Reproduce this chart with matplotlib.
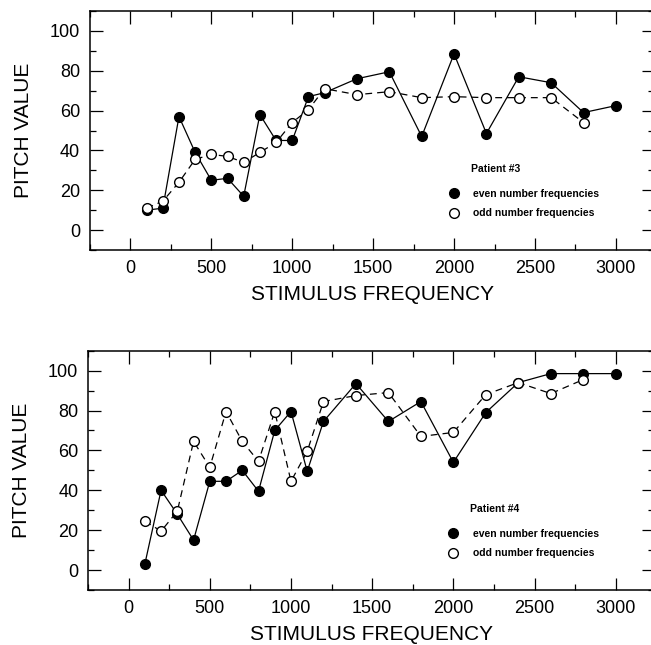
import numpy as np
import matplotlib
matplotlib.use("Agg")
import matplotlib.pyplot as plt
from matplotlib.lines import Line2D
from matplotlib.ticker import MultipleLocator

plt.rcParams['font.family'] = ['Liberation Sans', 'DejaVu Sans']

# Frequencies (Hz) of the stimuli
freq_even = [100, 200, 300, 400, 500, 600, 700, 800, 900, 1000, 1100, 1200,
             1400, 1600, 1800, 2000, 2200, 2400, 2600, 2800, 3000]
freq_odd = [100, 200, 300, 400, 500, 600, 700, 800, 900, 1000, 1100, 1200,
            1400, 1600, 1800, 2000, 2200, 2400, 2600, 2800]

# Patient #3
p3_even = [10, 11, 57, 39, 25, 26, 17, 58, 45, 45, 67, 69,
           76, 79.5, 47, 88.5, 48.5, 77, 74, 59, 62.5]
p3_odd = [11, 14.5, 24, 35.5, 38, 37, 34, 39, 44, 54, 60.5, 71,
          68, 69.5, 66.5, 67, 66.5, 66.5, 66.5, 54]

# Patient #4
p4_even = [3, 40, 28, 15, 44.5, 44.5, 50, 39.5, 70, 79.5, 49.5, 74.5,
           93.5, 74.5, 84.5, 54, 79, 94, 98.5, 98.5, 98.5]
p4_odd = [24.5, 19.5, 29.5, 64.5, 51.5, 79.5, 64.5, 54.5, 79.5, 44.5, 59.5, 84.5,
          87.5, 89, 67, 69, 88, 94, 88.5, 95.5]

patients = ["Patient #3", "Patient #4"]
labels = ["even number frequencies", "odd number frequencies"]

fig = plt.figure(figsize=(6.51, 6.45), dpi=100)
ax1 = fig.add_axes([0.1382, 0.6124, 0.867, 0.3705])
ax2 = fig.add_axes([0.1352, 0.0853, 0.870, 0.371])

datasets = [(ax1, p3_even, p3_odd, patients[0]),
            (ax2, p4_even, p4_odd, patients[1])]

for ax, ev, od, name in datasets:
    ax.plot(freq_even, ev, '-', color='black', lw=0.9,
            marker='o', ms=7, mfc='black', mec='black', zorder=3)
    ax.plot(freq_odd, od, '--', color='black', lw=0.9, dashes=(5.5, 4),
            marker='o', ms=7, mfc='white', mec='black', mew=1.0, zorder=4)
    ax.set_xlim(-250, 3238)
    ax.set_ylim(-10, 110)
    ax.xaxis.set_major_locator(MultipleLocator(500))
    ax.xaxis.set_minor_locator(MultipleLocator(250))
    ax.yaxis.set_major_locator(MultipleLocator(20))
    ax.yaxis.set_minor_locator(MultipleLocator(10))
    ax.set_yticks(np.arange(0, 101, 20))
    ax.tick_params(which='both', direction='in', top=True, right=True,
                   width=0.9, labelsize=13)
    ax.tick_params(which='major', length=9, pad=7)
    ax.tick_params(which='minor', length=4.5)
    for sp in ax.spines.values():
        sp.set_linewidth(1.1)
    ax.set_xlabel("STIMULUS FREQUENCY", fontsize=15, labelpad=6)
    ax.set_ylabel("PITCH VALUE", fontsize=15, labelpad=12)

    # legend block: title text aligned with the entry labels
    ax.text(0.675, 0.34, name, transform=ax.transAxes, fontsize=7.5,
            fontweight='bold', va='center', ha='left')
    handles = [Line2D([], [], ls='none', marker='o', ms=7, mfc='black', mec='black'),
               Line2D([], [], ls='none', marker='o', ms=7, mfc='white', mec='black')]
    ax.legend(handles, labels, loc='upper left', bbox_to_anchor=(0.637, 0.255),
              frameon=False, handlelength=0.8, handletextpad=1.5,
              labelspacing=0.9, borderpad=0, borderaxespad=0,
              prop={'size': 7.5, 'weight': 'bold'})

fig.savefig("out.png", dpi=100)
